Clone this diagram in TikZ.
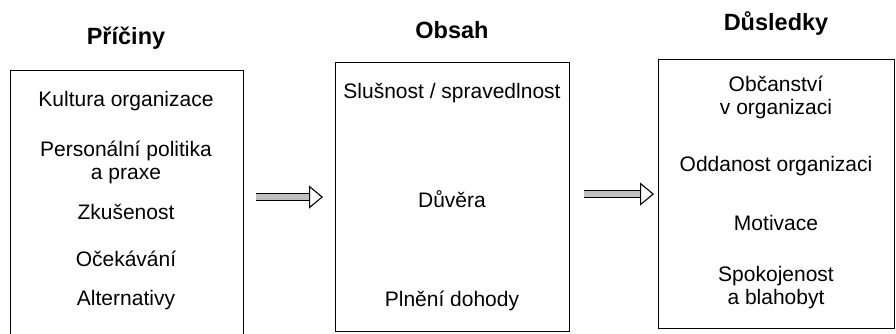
\documentclass[tikz,border=0pt]{standalone}
\usepackage{fontspec}
\setmainfont{Liberation Sans}
\usetikzlibrary{arrows.meta}

\tikzset{
  box/.style={draw, line width=1.1pt, anchor=north west, inner sep=0pt},
  item/.style={font=\fontsize{21}{23}\selectfont, align=center},
  heading/.style={font=\fontsize{23.5}{26}\selectfont\bfseries},
  flow/.style={double=gray!50, double distance=5.5pt, line width=1pt,
    -{Triangle[open, fill=white, length=14pt, width=23pt, line width=1.1pt]}}
}

\begin{document}
\begin{tikzpicture}[x=1pt, y=-1pt]
  \useasboundingbox (0,0) rectangle (896,334);
  \clip (0,0) rectangle (896,334);

  \node[heading] (hcauses) at (126,38) {Příčiny};
  \node[heading] (hcontent) at (452,30) {Obsah};
  \node[heading] (heffects) at (776,24) {Důsledky};

  \node[box, minimum width=233pt, minimum height=280pt] (causes) at (10,70) {};
  \node[box, minimum width=234pt, minimum height=269pt] (content) at (335,62) {};
  \node[box, minimum width=236pt, minimum height=269pt] (effects) at (658,59) {};

  \node[item] (c1) at (126,101) {Kultura organizace};
  \node[item] (c2) at (126,162) {Personální politika\\a praxe};
  \node[item] (c3) at (126,212) {Zkušenost};
  \node[item] (c4) at (126,259) {Očekávání};
  \node[item] (c5) at (126,300) {Alternativy};

  \node[item] (o1) at (452,93) {Slušnost / spravedlnost};
  \node[item] (o2) at (452,199) {Důvěra};
  \node[item] (o3) at (452,301) {Plnění dohody};

  \node[item] (e1) at (776,97) {Občanství\\v organizaci};
  \node[item] (e2) at (776,166) {Oddanost organizaci};
  \node[item] (e3) at (776,223) {Motivace};
  \node[item] (e4) at (776,288) {Spokojenost\\a blahobyt};

  \draw[flow, shorten <=12pt, shorten >=12pt] (content.west -| causes.east) -- (content.west);
  \draw[flow, shorten <=14pt, shorten >=4pt] (effects.west -| content.east) -- (effects.west);
\end{tikzpicture}
\end{document}
